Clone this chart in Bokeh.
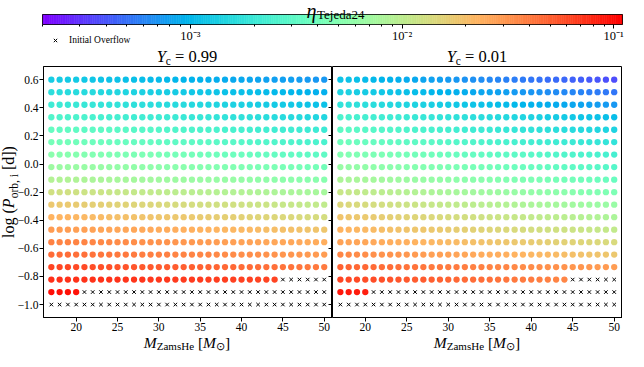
import math
import numpy as np
from bokeh.plotting import figure
from bokeh.layouts import column, row
from bokeh.models import (Label, Legend, LegendItem, FixedTicker, CustomJSTickFormatter,
                          LinearAxis, ColumnDataSource, LogColorMapper, Range1d, Div)
from bokeh.embed import file_html
from bokeh.resources import INLINE

# ---------------- data ----------------
masses = [17, 18, 19, 20, 21, 22, 23, 24, 25, 26, 27, 28, 29, 30, 31, 32, 33,
          34, 35, 36, 37, 38, 39, 40, 41, 42, 43, 44, 45, 46, 47, 48, 49, 50]
log_p = [0.600, 0.511, 0.422, 0.333, 0.244, 0.156, 0.067, -0.022, -0.111, -0.200,
         -0.289, -0.378, -0.467, -0.556, -0.644, -0.733, -0.822, -0.911, -1.000]

# log10(eta) per row (top row first); columns beyond a row's list are "Initial Overflow"
log_eta_yc099 = [
    [-2.88,-2.89,-2.90,-2.90,-2.91,-2.92,-2.93,-2.94,-2.94,-2.95,-2.96,-2.97,-2.98,-2.98,-2.99,-3.00,-3.01,-3.02,-3.02,-3.03,-3.04,-3.05,-3.06,-3.06,-3.07,-3.08,-3.09,-3.10,-3.10,-3.11,-3.12,-3.13,-3.14,-3.14],
    [-2.77,-2.78,-2.79,-2.79,-2.80,-2.81,-2.82,-2.83,-2.83,-2.84,-2.85,-2.86,-2.87,-2.87,-2.88,-2.89,-2.90,-2.91,-2.91,-2.92,-2.93,-2.94,-2.95,-2.95,-2.96,-2.97,-2.98,-2.99,-2.99,-3.00,-3.01,-3.02,-3.03,-3.03],
    [-2.68,-2.69,-2.70,-2.70,-2.71,-2.72,-2.73,-2.74,-2.74,-2.75,-2.76,-2.77,-2.78,-2.78,-2.79,-2.80,-2.81,-2.82,-2.82,-2.83,-2.84,-2.85,-2.86,-2.86,-2.87,-2.88,-2.89,-2.90,-2.90,-2.91,-2.92,-2.93,-2.94,-2.94],
    [-2.57,-2.58,-2.59,-2.59,-2.60,-2.61,-2.62,-2.63,-2.63,-2.64,-2.65,-2.66,-2.67,-2.67,-2.68,-2.69,-2.70,-2.71,-2.71,-2.72,-2.73,-2.74,-2.75,-2.75,-2.76,-2.77,-2.78,-2.79,-2.79,-2.80,-2.81,-2.82,-2.83,-2.83],
    [-2.46,-2.47,-2.47,-2.48,-2.49,-2.50,-2.50,-2.51,-2.52,-2.52,-2.53,-2.54,-2.54,-2.55,-2.56,-2.57,-2.57,-2.58,-2.59,-2.59,-2.60,-2.61,-2.61,-2.62,-2.63,-2.64,-2.64,-2.65,-2.66,-2.66,-2.67,-2.68,-2.68,-2.69],
    [-2.38,-2.39,-2.39,-2.40,-2.41,-2.42,-2.42,-2.43,-2.44,-2.44,-2.45,-2.46,-2.46,-2.47,-2.48,-2.49,-2.49,-2.50,-2.51,-2.51,-2.52,-2.53,-2.53,-2.54,-2.55,-2.56,-2.56,-2.57,-2.58,-2.58,-2.59,-2.60,-2.60,-2.61],
    [-2.27,-2.28,-2.28,-2.29,-2.30,-2.31,-2.31,-2.32,-2.33,-2.33,-2.34,-2.35,-2.35,-2.36,-2.37,-2.38,-2.38,-2.39,-2.40,-2.40,-2.41,-2.42,-2.42,-2.43,-2.44,-2.45,-2.45,-2.46,-2.47,-2.47,-2.48,-2.49,-2.49,-2.50],
    [-2.16,-2.17,-2.17,-2.18,-2.19,-2.20,-2.20,-2.21,-2.22,-2.22,-2.23,-2.24,-2.24,-2.25,-2.26,-2.27,-2.27,-2.28,-2.29,-2.29,-2.30,-2.31,-2.31,-2.32,-2.33,-2.34,-2.34,-2.35,-2.36,-2.36,-2.37,-2.38,-2.38,-2.39],
    [-2.05,-2.06,-2.06,-2.07,-2.08,-2.09,-2.09,-2.10,-2.11,-2.11,-2.12,-2.13,-2.13,-2.14,-2.15,-2.16,-2.16,-2.17,-2.18,-2.18,-2.19,-2.20,-2.20,-2.21,-2.22,-2.23,-2.23,-2.24,-2.25,-2.25,-2.26,-2.27,-2.27,-2.28],
    [-1.89,-1.90,-1.90,-1.91,-1.92,-1.93,-1.93,-1.94,-1.95,-1.95,-1.96,-1.97,-1.97,-1.98,-1.99,-2.00,-2.00,-2.01,-2.02,-2.02,-2.03,-2.04,-2.04,-2.05,-2.06,-2.07,-2.07,-2.08,-2.09,-2.09,-2.10,-2.11,-2.11,-2.12],
    [-1.75,-1.76,-1.76,-1.77,-1.78,-1.79,-1.79,-1.80,-1.81,-1.81,-1.82,-1.83,-1.83,-1.84,-1.85,-1.86,-1.86,-1.87,-1.88,-1.88,-1.89,-1.90,-1.90,-1.91,-1.92,-1.93,-1.93,-1.94,-1.95,-1.95,-1.96,-1.97,-1.97,-1.98],
    [-1.64,-1.65,-1.65,-1.66,-1.67,-1.68,-1.68,-1.69,-1.70,-1.70,-1.71,-1.72,-1.72,-1.73,-1.74,-1.75,-1.75,-1.76,-1.77,-1.77,-1.78,-1.79,-1.79,-1.80,-1.81,-1.82,-1.82,-1.83,-1.84,-1.84,-1.85,-1.86,-1.86,-1.87],
    [-1.53,-1.54,-1.54,-1.55,-1.55,-1.56,-1.57,-1.57,-1.58,-1.58,-1.59,-1.60,-1.60,-1.61,-1.61,-1.62,-1.63,-1.63,-1.64,-1.64,-1.65,-1.66,-1.66,-1.67,-1.67,-1.68,-1.69,-1.69,-1.70,-1.70,-1.71,-1.72,-1.72,-1.73],
    [-1.42,-1.43,-1.43,-1.44,-1.44,-1.45,-1.46,-1.46,-1.47,-1.47,-1.48,-1.49,-1.49,-1.50,-1.50,-1.51,-1.52,-1.52,-1.53,-1.53,-1.54,-1.55,-1.55,-1.56,-1.56,-1.57,-1.58,-1.58,-1.59,-1.59,-1.60,-1.61,-1.61,-1.62],
    [-1.34,-1.35,-1.35,-1.36,-1.36,-1.37,-1.38,-1.38,-1.39,-1.39,-1.40,-1.41,-1.41,-1.42,-1.42,-1.43,-1.44,-1.44,-1.45,-1.45,-1.46,-1.47,-1.47,-1.48,-1.48,-1.49,-1.50,-1.50,-1.51,-1.51,-1.52,-1.53,-1.53,-1.54],
    [-1.20,-1.21,-1.21,-1.22,-1.22,-1.23,-1.24,-1.24,-1.25,-1.25,-1.26,-1.27,-1.27,-1.28,-1.28,-1.29,-1.30,-1.30,-1.31,-1.31,-1.32,-1.33,-1.33,-1.34,-1.34,-1.35,-1.36,-1.36,-1.37,-1.37,-1.38,-1.39,-1.39,-1.40],
    [-1.12,-1.12,-1.13,-1.13,-1.13,-1.14,-1.14,-1.14,-1.14,-1.15,-1.15,-1.15,-1.16,-1.16,-1.16,-1.17,-1.17,-1.17,-1.17,-1.18,-1.18,-1.18,-1.19,-1.19,-1.19,-1.20,-1.20,-1.20],
    [-1.01,-1.02,-1.02,-1.03],
    [],
]

log_eta_yc001 = [
    [-2.93,-2.945,-2.96,-2.975,-2.99,-3.005,-3.02,-3.035,-3.05,-3.065,-3.08,-3.095,-3.11,-3.125,-3.14,-3.155,-3.17,-3.185,-3.20,-3.215,-3.23,-3.245,-3.26,-3.275,-3.29,-3.305,-3.32,-3.335,-3.35,-3.365,-3.38,-3.395,-3.41,-3.425],
    [-2.85,-2.863,-2.876,-2.889,-2.902,-2.915,-2.928,-2.941,-2.954,-2.967,-2.98,-2.993,-3.006,-3.019,-3.032,-3.045,-3.058,-3.071,-3.084,-3.097,-3.11,-3.123,-3.136,-3.149,-3.162,-3.175,-3.188,-3.201,-3.214,-3.227,-3.24,-3.253,-3.266,-3.279],
    [-2.74,-2.752,-2.764,-2.776,-2.788,-2.80,-2.812,-2.824,-2.836,-2.848,-2.86,-2.872,-2.884,-2.896,-2.908,-2.92,-2.932,-2.944,-2.956,-2.968,-2.98,-2.992,-3.004,-3.016,-3.028,-3.04,-3.052,-3.064,-3.076,-3.088,-3.10,-3.112,-3.124,-3.136],
    [-2.60,-2.611,-2.622,-2.633,-2.644,-2.655,-2.666,-2.677,-2.688,-2.699,-2.71,-2.721,-2.732,-2.743,-2.754,-2.765,-2.776,-2.787,-2.798,-2.809,-2.82,-2.831,-2.842,-2.853,-2.864,-2.875,-2.886,-2.897,-2.908,-2.919,-2.93,-2.941,-2.952,-2.963],
    [-2.49,-2.501,-2.512,-2.523,-2.534,-2.545,-2.556,-2.567,-2.578,-2.589,-2.60,-2.611,-2.622,-2.633,-2.644,-2.655,-2.666,-2.677,-2.688,-2.699,-2.71,-2.721,-2.732,-2.743,-2.754,-2.765,-2.776,-2.787,-2.798,-2.809,-2.82,-2.831,-2.842,-2.853],
    [-2.41,-2.42,-2.43,-2.44,-2.45,-2.46,-2.47,-2.48,-2.49,-2.50,-2.51,-2.52,-2.53,-2.54,-2.55,-2.56,-2.57,-2.58,-2.59,-2.60,-2.61,-2.62,-2.63,-2.64,-2.65,-2.66,-2.67,-2.68,-2.69,-2.70,-2.71,-2.72,-2.73,-2.74],
    [-2.30,-2.31,-2.32,-2.33,-2.34,-2.35,-2.36,-2.37,-2.38,-2.39,-2.40,-2.41,-2.42,-2.43,-2.44,-2.45,-2.46,-2.47,-2.48,-2.49,-2.50,-2.51,-2.52,-2.53,-2.54,-2.55,-2.56,-2.57,-2.58,-2.59,-2.60,-2.61,-2.62,-2.63],
    [-2.19,-2.201,-2.212,-2.223,-2.234,-2.245,-2.256,-2.267,-2.278,-2.289,-2.30,-2.311,-2.322,-2.333,-2.344,-2.355,-2.366,-2.377,-2.388,-2.399,-2.41,-2.421,-2.432,-2.443,-2.454,-2.465,-2.476,-2.487,-2.498,-2.509,-2.52,-2.531,-2.542,-2.553],
    [-2.08,-2.091,-2.102,-2.113,-2.124,-2.135,-2.146,-2.157,-2.168,-2.179,-2.19,-2.201,-2.212,-2.223,-2.234,-2.245,-2.256,-2.267,-2.278,-2.289,-2.30,-2.311,-2.322,-2.333,-2.344,-2.355,-2.366,-2.377,-2.388,-2.399,-2.41,-2.421,-2.432,-2.443],
    [-1.94,-1.952,-1.964,-1.976,-1.988,-2.00,-2.012,-2.024,-2.036,-2.048,-2.06,-2.072,-2.084,-2.096,-2.108,-2.12,-2.132,-2.144,-2.156,-2.168,-2.18,-2.192,-2.204,-2.216,-2.228,-2.24,-2.252,-2.264,-2.276,-2.288,-2.30,-2.312,-2.324,-2.336],
    [-1.83,-1.841,-1.852,-1.863,-1.874,-1.885,-1.896,-1.907,-1.918,-1.929,-1.94,-1.951,-1.962,-1.973,-1.984,-1.995,-2.006,-2.017,-2.028,-2.039,-2.05,-2.061,-2.072,-2.083,-2.094,-2.105,-2.116,-2.127,-2.138,-2.149,-2.16,-2.171,-2.182,-2.193],
    [-1.72,-1.731,-1.742,-1.753,-1.764,-1.775,-1.786,-1.797,-1.808,-1.819,-1.83,-1.841,-1.852,-1.863,-1.874,-1.885,-1.896,-1.907,-1.918,-1.929,-1.94,-1.951,-1.962,-1.973,-1.984,-1.995,-2.006,-2.017,-2.028,-2.039,-2.05,-2.061,-2.072,-2.083],
    [-1.64,-1.65,-1.66,-1.67,-1.68,-1.69,-1.70,-1.71,-1.72,-1.73,-1.74,-1.75,-1.76,-1.77,-1.78,-1.79,-1.80,-1.81,-1.82,-1.83,-1.84,-1.85,-1.86,-1.87,-1.88,-1.89,-1.90,-1.91,-1.92,-1.93,-1.94,-1.95,-1.96,-1.97],
    [-1.56,-1.569,-1.578,-1.587,-1.596,-1.605,-1.614,-1.623,-1.632,-1.641,-1.65,-1.659,-1.668,-1.677,-1.686,-1.695,-1.704,-1.713,-1.722,-1.731,-1.74,-1.749,-1.758,-1.767,-1.776,-1.785,-1.794,-1.803,-1.812,-1.821,-1.83,-1.839,-1.848,-1.857],
    [-1.45,-1.459,-1.468,-1.477,-1.486,-1.495,-1.504,-1.513,-1.522,-1.531,-1.54,-1.549,-1.558,-1.567,-1.576,-1.585,-1.594,-1.603,-1.612,-1.621,-1.63,-1.639,-1.648,-1.657,-1.666,-1.675,-1.684,-1.693,-1.702,-1.711,-1.72,-1.729,-1.738,-1.747],
    [-1.31,-1.317,-1.324,-1.331,-1.338,-1.345,-1.352,-1.359,-1.366,-1.373,-1.38,-1.387,-1.394,-1.401,-1.408,-1.415,-1.422,-1.429,-1.436,-1.443,-1.45,-1.457,-1.464,-1.471,-1.478,-1.485,-1.492,-1.499,-1.506,-1.513,-1.52,-1.527,-1.534,-1.541],
    [-1.20,-1.209,-1.218,-1.227,-1.236,-1.245,-1.254,-1.263,-1.272,-1.281,-1.29,-1.299,-1.308,-1.317,-1.326,-1.335,-1.344,-1.353,-1.362,-1.371,-1.38,-1.389,-1.398,-1.407,-1.416,-1.425,-1.434,-1.443],
    [-1.04,-1.05,-1.06,-1.07],
    [],
]

eta_low, eta_high = 2.0e-4, 0.110
cbar_major = [1e-3, 1e-2, 1e-1]
cbar_minor = [2e-4, 3e-4, 4e-4, 5e-4, 6e-4, 7e-4, 8e-4, 9e-4,
              2e-3, 3e-3, 4e-3, 5e-3, 6e-3, 7e-3, 8e-3, 9e-3,
              2e-2, 3e-2, 4e-2, 5e-2, 6e-2, 7e-2, 8e-2, 9e-2]
x_ticks = [20, 25, 30, 35, 40, 45, 50]
y_ticks = [-1.0, -0.8, -0.6, -0.4, -0.2, 0.0, 0.2, 0.4, 0.6]
titles = ["0.99", "0.01"]
legend_label = "Initial Overflow"

# ---------------- style / layout ----------------
FONT = "Liberation Serif"
CSS_FONT = "font-family:'Liberation Serif','Times New Roman',serif;color:#000;"
X_RANGE = (16.05, 51.0)
Y_RANGE = (-1.092, 0.694)
W_TOTAL = 628
FRAME_W = 290
FRAME_H = 251
YLAB_W = 14
P1_BORDER = 28
FRAME_X0 = YLAB_W + P1_BORDER          # 42
CB_RIGHT_PAD = W_TOTAL - FRAME_X0 - 2 * FRAME_W   # 6
CB_H, TITLE_H, XLAB_H, PANEL_BOTTOM = 46, 20, 16, 18


def rainbow(t):
    r = min(1.0, abs(2 * t - 0.5))
    g = min(1.0, max(0.0, math.sin(math.pi * t)))
    b = min(1.0, max(0.0, math.cos(math.pi * t / 2)))
    return "#%02x%02x%02x" % (int(round(r * 255)), int(round(g * 255)), int(round(b * 255)))


palette = [rainbow(t) for t in np.linspace(0, 1, 256)]
mapper = LogColorMapper(palette=palette, low=eta_low, high=eta_high)


def sub(t, size, shift):
    return f'<span style="font-size:{size}px;position:relative;top:{shift}px">{t}</span>'


def text_div(w, h, items):
    """items: (center_x, top, font_px, html, rotate)"""
    inner = ""
    for cx, top, fs, html, rot in items:
        tr = "translate(-50%,-50%) rotate(-90deg)" if rot else "translateX(-50%)"
        inner += (f'<div style="position:absolute;left:{cx}px;top:{top}px;transform:{tr};'
                  f'font-size:{fs}px;line-height:1;white-space:nowrap;">{html}</div>')
    return Div(width=w, height=h, margin=0, sizing_mode="fixed",
               styles={"margin": "0px", "padding": "0px", "overflow": "visible"},
               text=f'<div style="position:relative;width:{w}px;height:{h}px;margin:0;'
                    f'padding:0;{CSS_FONT}">{inner}</div>')


def style_axis(ax, size="11.5px"):
    ax.major_tick_out = 4
    ax.major_tick_in = 0
    ax.minor_tick_out = 0
    ax.minor_tick_in = 0
    ax.major_tick_line_color = "black"
    ax.axis_line_color = "black"
    ax.major_label_text_font = FONT
    ax.major_label_text_font_size = size
    ax.major_label_text_color = "black"


def split(table):
    dx, dy, de, ox, oy = [], [], [], [], []
    for yv, vals in zip(log_p, table):
        for j, m in enumerate(masses):
            if j < len(vals):
                dx.append(m); dy.append(yv); de.append(10 ** vals[j])
            else:
                ox.append(m); oy.append(yv)
    return (ColumnDataSource(dict(x=dx, y=dy, eta=de)),
            ColumnDataSource(dict(x=ox, y=oy)))


def make_panel(table, left):
    width = P1_BORDER + FRAME_W if left else FRAME_W
    p = figure(width=width, height=FRAME_H + PANEL_BOTTOM, x_range=X_RANGE, y_range=Y_RANGE,
               output_backend="svg", toolbar_location=None, margin=0,
               min_border_left=P1_BORDER if left else 0, min_border_right=0,
               min_border_top=0, min_border_bottom=PANEL_BOTTOM,
               y_axis_location="left" if left else None)
    p.title.visible = False
    p.grid.visible = False
    p.outline_line_color = "black"
    p.outline_line_width = 1
    p.border_fill_color = None
    dots, over = split(table)
    p.scatter("x", "y", source=dots, size=6.3, marker="circle",
              fill_color={"field": "eta", "transform": mapper}, line_color=None)
    p.scatter("x", "y", source=over, size=5, marker="x", line_color="black", line_width=1)
    xa = p.xaxis[0]
    xa.ticker = FixedTicker(ticks=x_ticks)
    style_axis(xa)
    xa.major_label_standoff = 1
    if left:
        ya = p.yaxis[0]
        ya.ticker = FixedTicker(ticks=y_ticks)
        style_axis(ya)
        ya.major_label_standoff = 1
        ya.formatter = CustomJSTickFormatter(
            code="return (tick < -1e-9 ? '\u2212' : '') + Math.abs(tick).toFixed(1);")
        # ticks of the right panel's shared y axis (pointing into this panel)
        ra = LinearAxis(ticker=FixedTicker(ticks=y_ticks), major_tick_in=4, major_tick_out=0,
                        minor_tick_in=0, minor_tick_out=0, major_label_text_color=None,
                        axis_line_color=None, major_tick_line_color="black")
        p.add_layout(ra, "right")
    return p


# ---------------- colorbar + legend ----------------
dec = math.log10(eta_high / eta_low)
ppd = (2 * FRAME_W) / dec
cb_lo = 10 ** (math.log10(eta_low) - FRAME_X0 / ppd)
cb_hi = 10 ** (math.log10(eta_high) + CB_RIGHT_PAD / ppd)
cb = figure(width=W_TOTAL, height=CB_H, x_axis_type="log",
            x_range=(cb_lo, cb_hi), y_range=Range1d(CB_H, 0),
            output_backend="svg", toolbar_location=None, min_border=0, margin=0,
            min_border_left=0, min_border_right=0, min_border_top=0, min_border_bottom=0,
            y_axis_location=None)
cb.title.visible = False
cb.grid.visible = False
cb.outline_line_color = None
BAR_TOP, BAR_BOT = 14, 24
edges = np.logspace(math.log10(eta_low), math.log10(eta_high), len(palette) + 1)
cb.quad(left=edges[:-1], right=edges[1:], bottom=BAR_BOT, top=BAR_TOP, fill_color=palette,
        line_color=palette, line_width=0.6)
cb.quad(left=[eta_low], right=[eta_high], bottom=[BAR_BOT], top=[BAR_TOP], fill_color=None,
        line_color="black", line_width=0.8)
ca = cb.xaxis[0]
ca.fixed_location = BAR_BOT
ca.ticker = FixedTicker(ticks=cbar_major, minor_ticks=cbar_minor)
ca.major_tick_out = 4
ca.major_tick_in = 0
ca.minor_tick_out = 2
ca.minor_tick_in = 0
ca.major_tick_line_color = "black"
ca.minor_tick_line_color = "black"
ca.axis_line_color = None
ca.major_label_text_font = FONT
ca.major_label_text_font_size = "12.5px"
ca.major_label_text_color = "black"
ca.major_label_standoff = 0
ca.formatter = CustomJSTickFormatter(code="""
const e = Math.round(Math.log10(tick));
const m = {'-':'\u207b','0':'\u2070','1':'\u00b9','2':'\u00b2','3':'\u00b3','4':'\u2074',
           '5':'\u2075','6':'\u2076','7':'\u2077','8':'\u2078','9':'\u2079'};
return '10' + String(e).split('').map(c => m[c]).join('');
""")
xmid = 10 ** ((math.log10(eta_low) + math.log10(eta_high)) / 2)
cb.add_layout(Label(x=xmid, y=10, text="\u03b7", text_font=FONT, text_font_size="20px",
                    text_font_style="italic", text_align="right", text_baseline="alphabetic",
                    x_offset=-16, text_color="black"))
cb.add_layout(Label(x=xmid, y=10, text="Tejeda24", text_font=FONT, text_font_size="13px",
                    text_align="left", text_baseline="alphabetic", x_offset=-15.5,
                    y_offset=-3.5, text_color="black"))

dummy = cb.scatter(x=[eta_low], y=[-1000], marker="x", size=5, line_color="black",
                   line_width=1)
leg = Legend(items=[LegendItem(label=legend_label, renderers=[dummy])],
             location=(FRAME_X0 + 7, 0),
             label_text_font=FONT, label_text_font_size="9.5px", label_text_color="black",
             padding=0, margin=0, spacing=0, glyph_width=12, glyph_height=12,
             label_height=12, label_standoff=8, border_line_color=None,
             background_fill_alpha=0)
cb.add_layout(leg)

# ---------------- texts around the panels ----------------
c1 = FRAME_X0 + FRAME_W / 2
c2 = FRAME_X0 + FRAME_W * 1.5
title_items = [(cx, 2.5, 16.5, f"<i>Y</i>{sub('c', 11.5, 3.5)} = {t}", False)
               for cx, t in zip([c1, c2], titles)]
tdiv = text_div(W_TOTAL, TITLE_H, title_items)

xlab_html = (f"<i>M</i>{sub('ZamsHe', 11, 2.5)} [<i>M</i>{sub('&#8857;', 10.5, 2.5)}]")
xdiv = text_div(W_TOTAL, XLAB_H, [(c1, -0.5, 15.5, xlab_html, False),
                                  (c2, -0.5, 15.5, xlab_html, False)])

ylab_html = f"log (<i>P</i>{sub('orb, i', 11.5, 3.5)} [d])"
ydiv = text_div(YLAB_W, FRAME_H + PANEL_BOTTOM, [(8.5, FRAME_H / 2, 16, ylab_html, True)])

p1 = make_panel(log_eta_yc099, True)
p2 = make_panel(log_eta_yc001, False)

layout = column(cb, tdiv, row(ydiv, p1, p2, spacing=0, margin=0), xdiv, spacing=0, margin=0)
open("out.html", "w").write(file_html(layout, INLINE))
